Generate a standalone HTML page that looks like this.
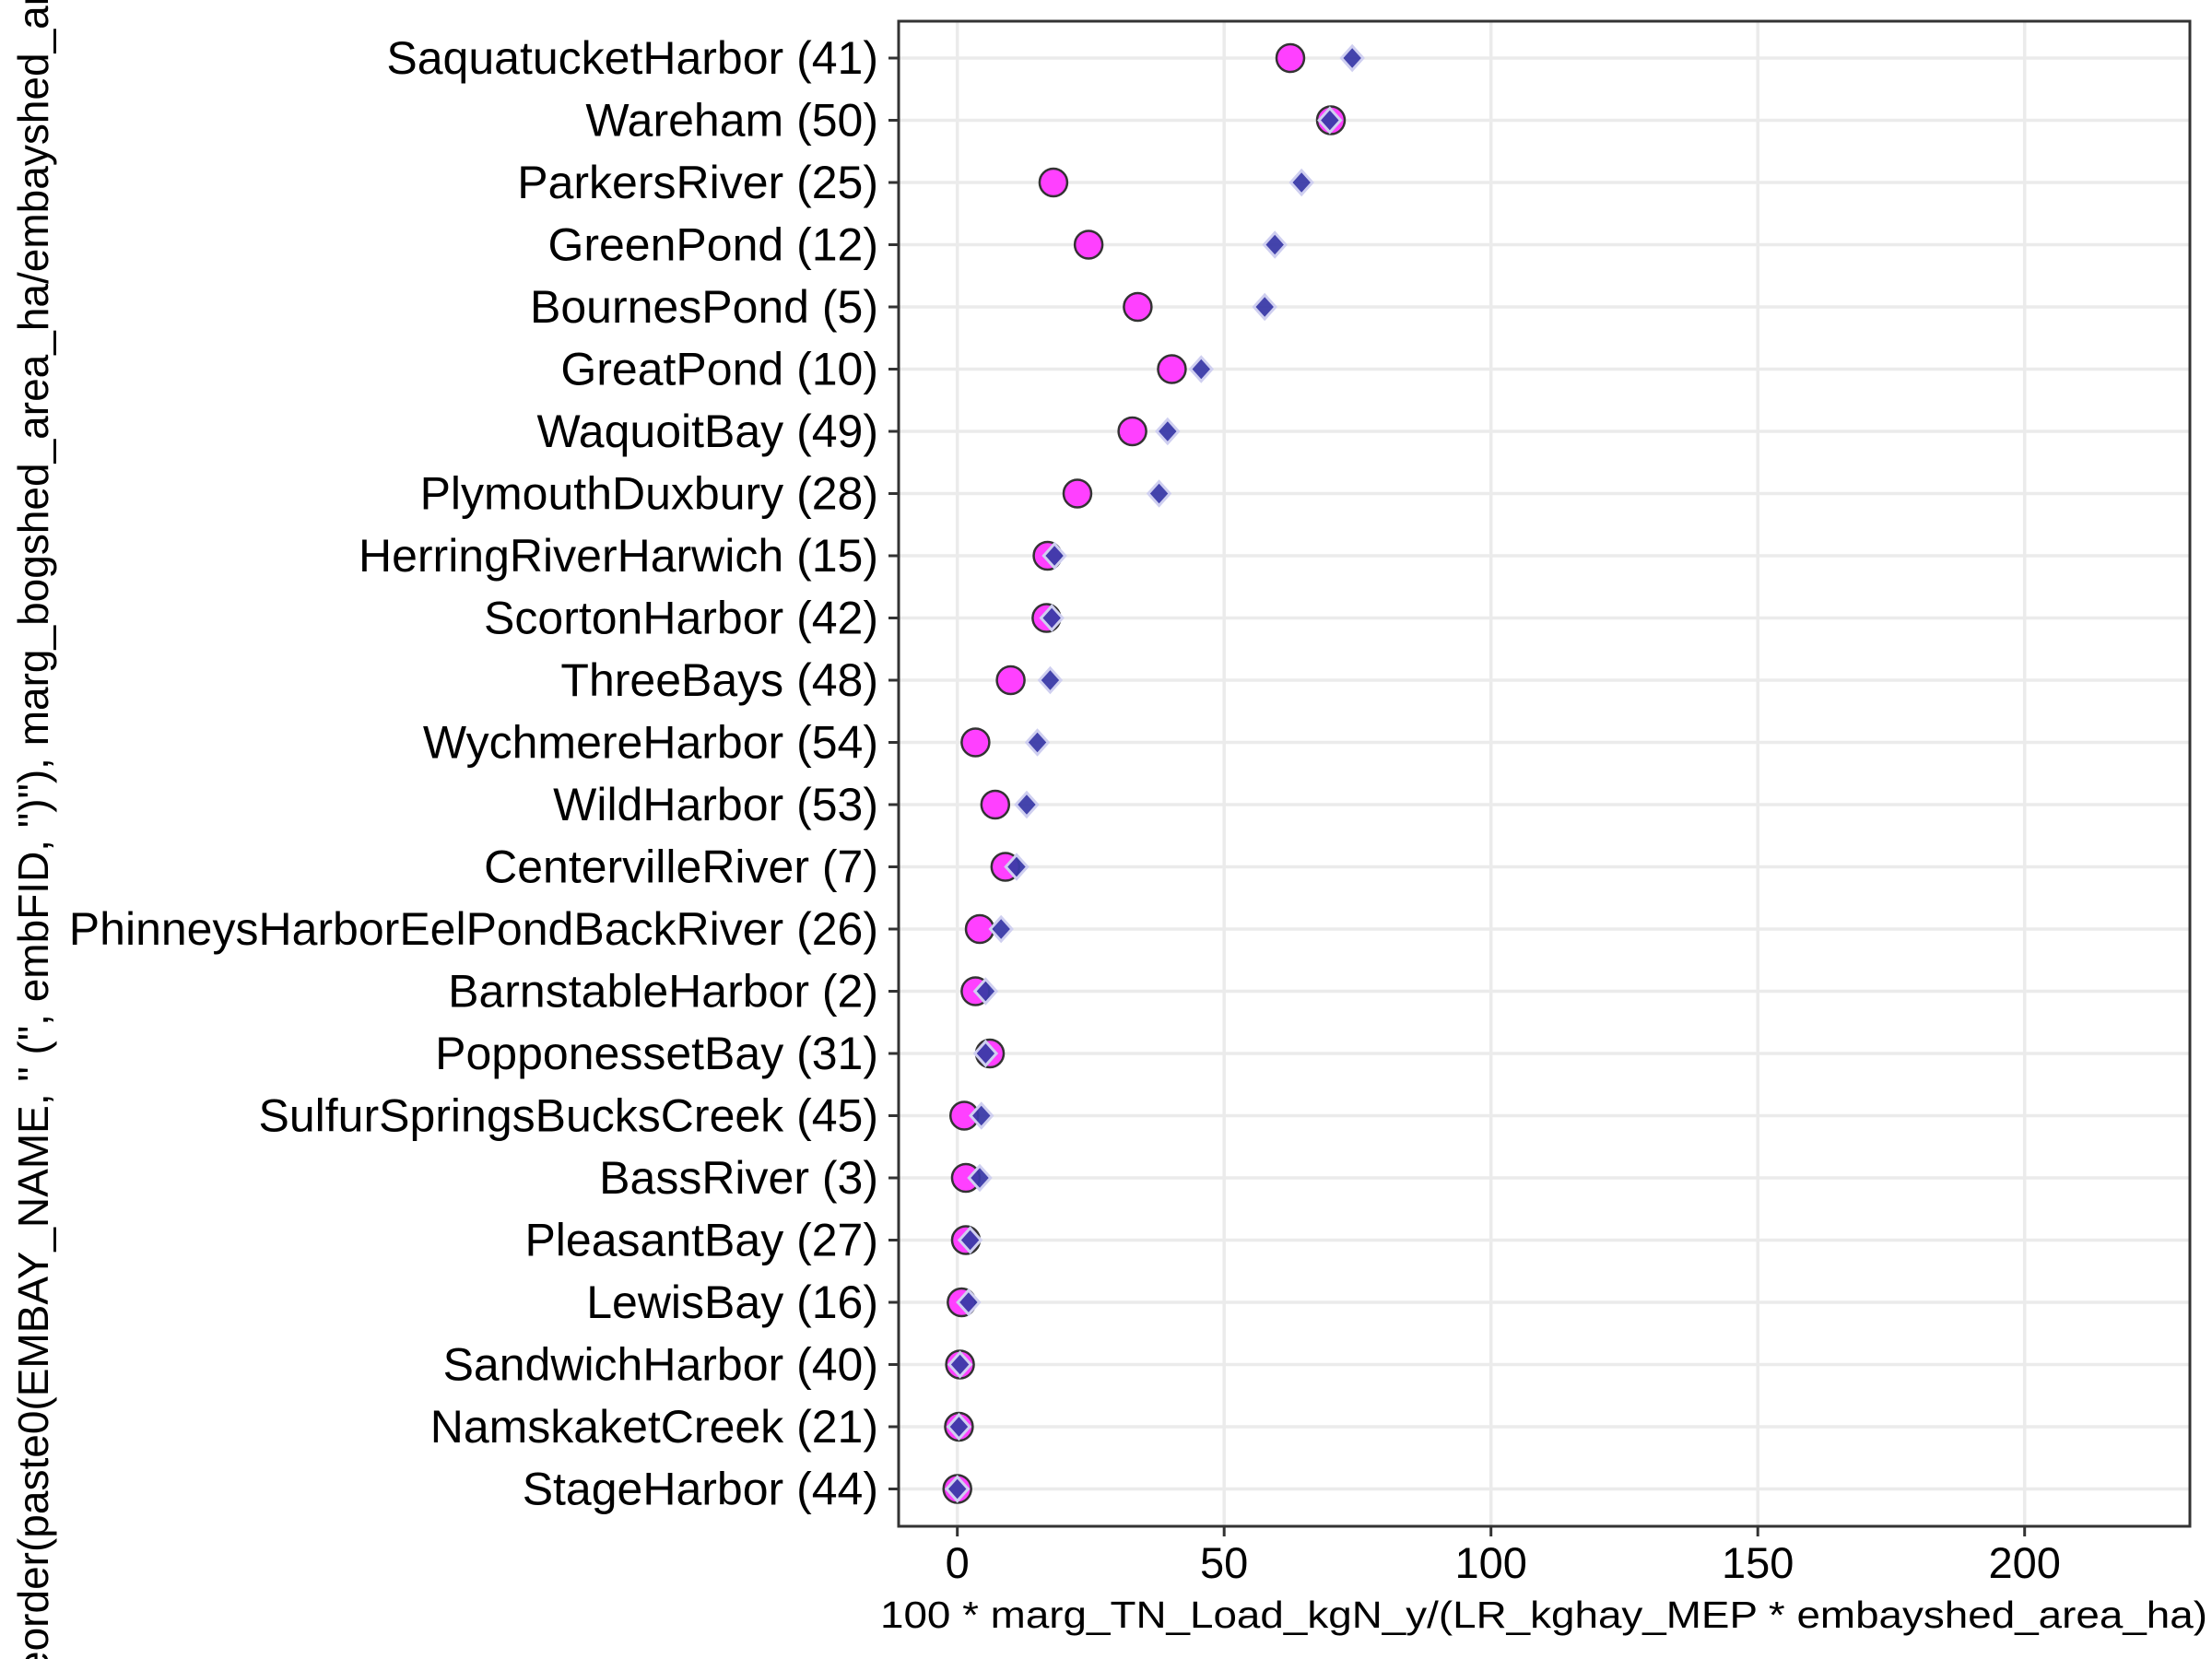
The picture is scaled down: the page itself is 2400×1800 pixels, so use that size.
<!DOCTYPE html>
<html><head><meta charset="utf-8"><style>
html,body{margin:0;padding:0;background:#fff}
svg{display:block;font-family:"Liberation Sans",Arial,sans-serif}
</style></head><body>
<svg id="chart" width="2400" height="1800" viewBox="0 0 2400 1800" xmlns="http://www.w3.org/2000/svg">
<rect width="2400" height="1800" fill="#fff"/>
<g id="grid"></g>
<g id="marks"></g>
<rect x="975" y="23" width="1401" height="1633" fill="none" stroke="#333" stroke-width="3"/>
<g id="axes"></g>
<text x="1675" y="1766" font-size="41" text-anchor="middle" textLength="1440" lengthAdjust="spacingAndGlyphs">100 * marg_TN_Load_kgN_y/(LR_kghay_MEP * embayshed_area_ha)</text>
<text transform="translate(52,840) rotate(-90)" font-size="46" text-anchor="middle">reorder(paste0(EMBAY_NAME, " (", embFID, ")"), marg_bogshed_area_ha/embayshed_area_ha)</text>
</svg>
<script>
const categories = ["SaquatucketHarbor (41)","Wareham (50)","ParkersRiver (25)","GreenPond (12)","BournesPond (5)","GreatPond (10)","WaquoitBay (49)","PlymouthDuxbury (28)","HerringRiverHarwich (15)","ScortonHarbor (42)","ThreeBays (48)","WychmereHarbor (54)","WildHarbor (53)","CentervilleRiver (7)","PhinneysHarborEelPondBackRiver (26)","BarnstableHarbor (2)","PopponessetBay (31)","SulfurSpringsBucksCreek (45)","BassRiver (3)","PleasantBay (27)","LewisBay (16)","SandwichHarbor (40)","NamskaketCreek (21)","StageHarbor (44)"];
const circleValues = [62.4,70,18,24.6,33.8,40.2,32.8,22.5,16.9,16.7,10,3.4,7.1,9,4.2,3.4,6.1,1.3,1.6,1.6,0.8,0.5,0.3,0];
const diamondValues = [74,69.8,64.5,59.5,57.6,45.7,39.4,37.8,18.2,17.7,17.4,15,13,11.1,8.2,5.3,5.3,4.5,4.2,2.4,2.1,0.5,0.3,0];
const xTicks = [0,50,100,150,200];
const xTickLabels = ["0","50","100","150","200"];

const NS="http://www.w3.org/2000/svg";
const PL=975, PR=2376, PT=23, PB=1656;
const xs = v => 1038.7 + v*5.79;
const ys = i => 63 + i*67.5;
function mk(tag, attrs, parent){const e=document.createElementNS(NS,tag);for(const k in attrs)e.setAttribute(k,attrs[k]);parent.appendChild(e);return e;}
const grid=document.getElementById('grid'), marks=document.getElementById('marks'), axes=document.getElementById('axes');

xTicks.forEach((t,i)=>{
  const l=mk('line',{x1:xs(t),x2:xs(t),y1:PT,y2:PB,stroke:'#ebebeb','stroke-width':3.5},grid);
  
  
  const tk=mk('line',{x1:xs(t),x2:xs(t),y1:PB,y2:PB+11,stroke:'#333','stroke-width':3},axes);
  
  
  const tx=mk('text',{x:xs(t),y:1712,'font-size':47,'text-anchor':'middle',fill:'#000'},axes);
  tx.textContent=xTickLabels[i];
  
  
});
categories.forEach((c,i)=>{
  const y=ys(i);
  const l=mk('line',{x1:PL,x2:PR,y1:y,y2:y,stroke:'#ebebeb','stroke-width':3.5},grid);
  
  
  const tk=mk('line',{x1:PL-11,x2:PL,y1:y,y2:y,stroke:'#333','stroke-width':3},axes);
  
  
  const tx=mk('text',{x:953,y:y+17,'font-size':50,'text-anchor':'end',fill:'#000'},axes);
  tx.textContent=c;
  
  
});
categories.forEach((c,i)=>{
  const y=ys(i);
  const ci=mk('circle',{cx:xs(circleValues[i]),cy:y,r:15,fill:'#ff40ff',stroke:'#333','stroke-width':2.5},marks);
  
  
});
categories.forEach((c,i)=>{
  const y=ys(i), x=xs(diamondValues[i]), h=13;
  const d=mk('polygon',{points:`${x},${y-h} ${x+h*0.9},${y} ${x},${y+h} ${x-h*0.9},${y}`,fill:'#3a3aa8',stroke:'#cfcff0','stroke-width':3,'fill-opacity':0.95},marks);
  
  
});
</script>
</body></html>
